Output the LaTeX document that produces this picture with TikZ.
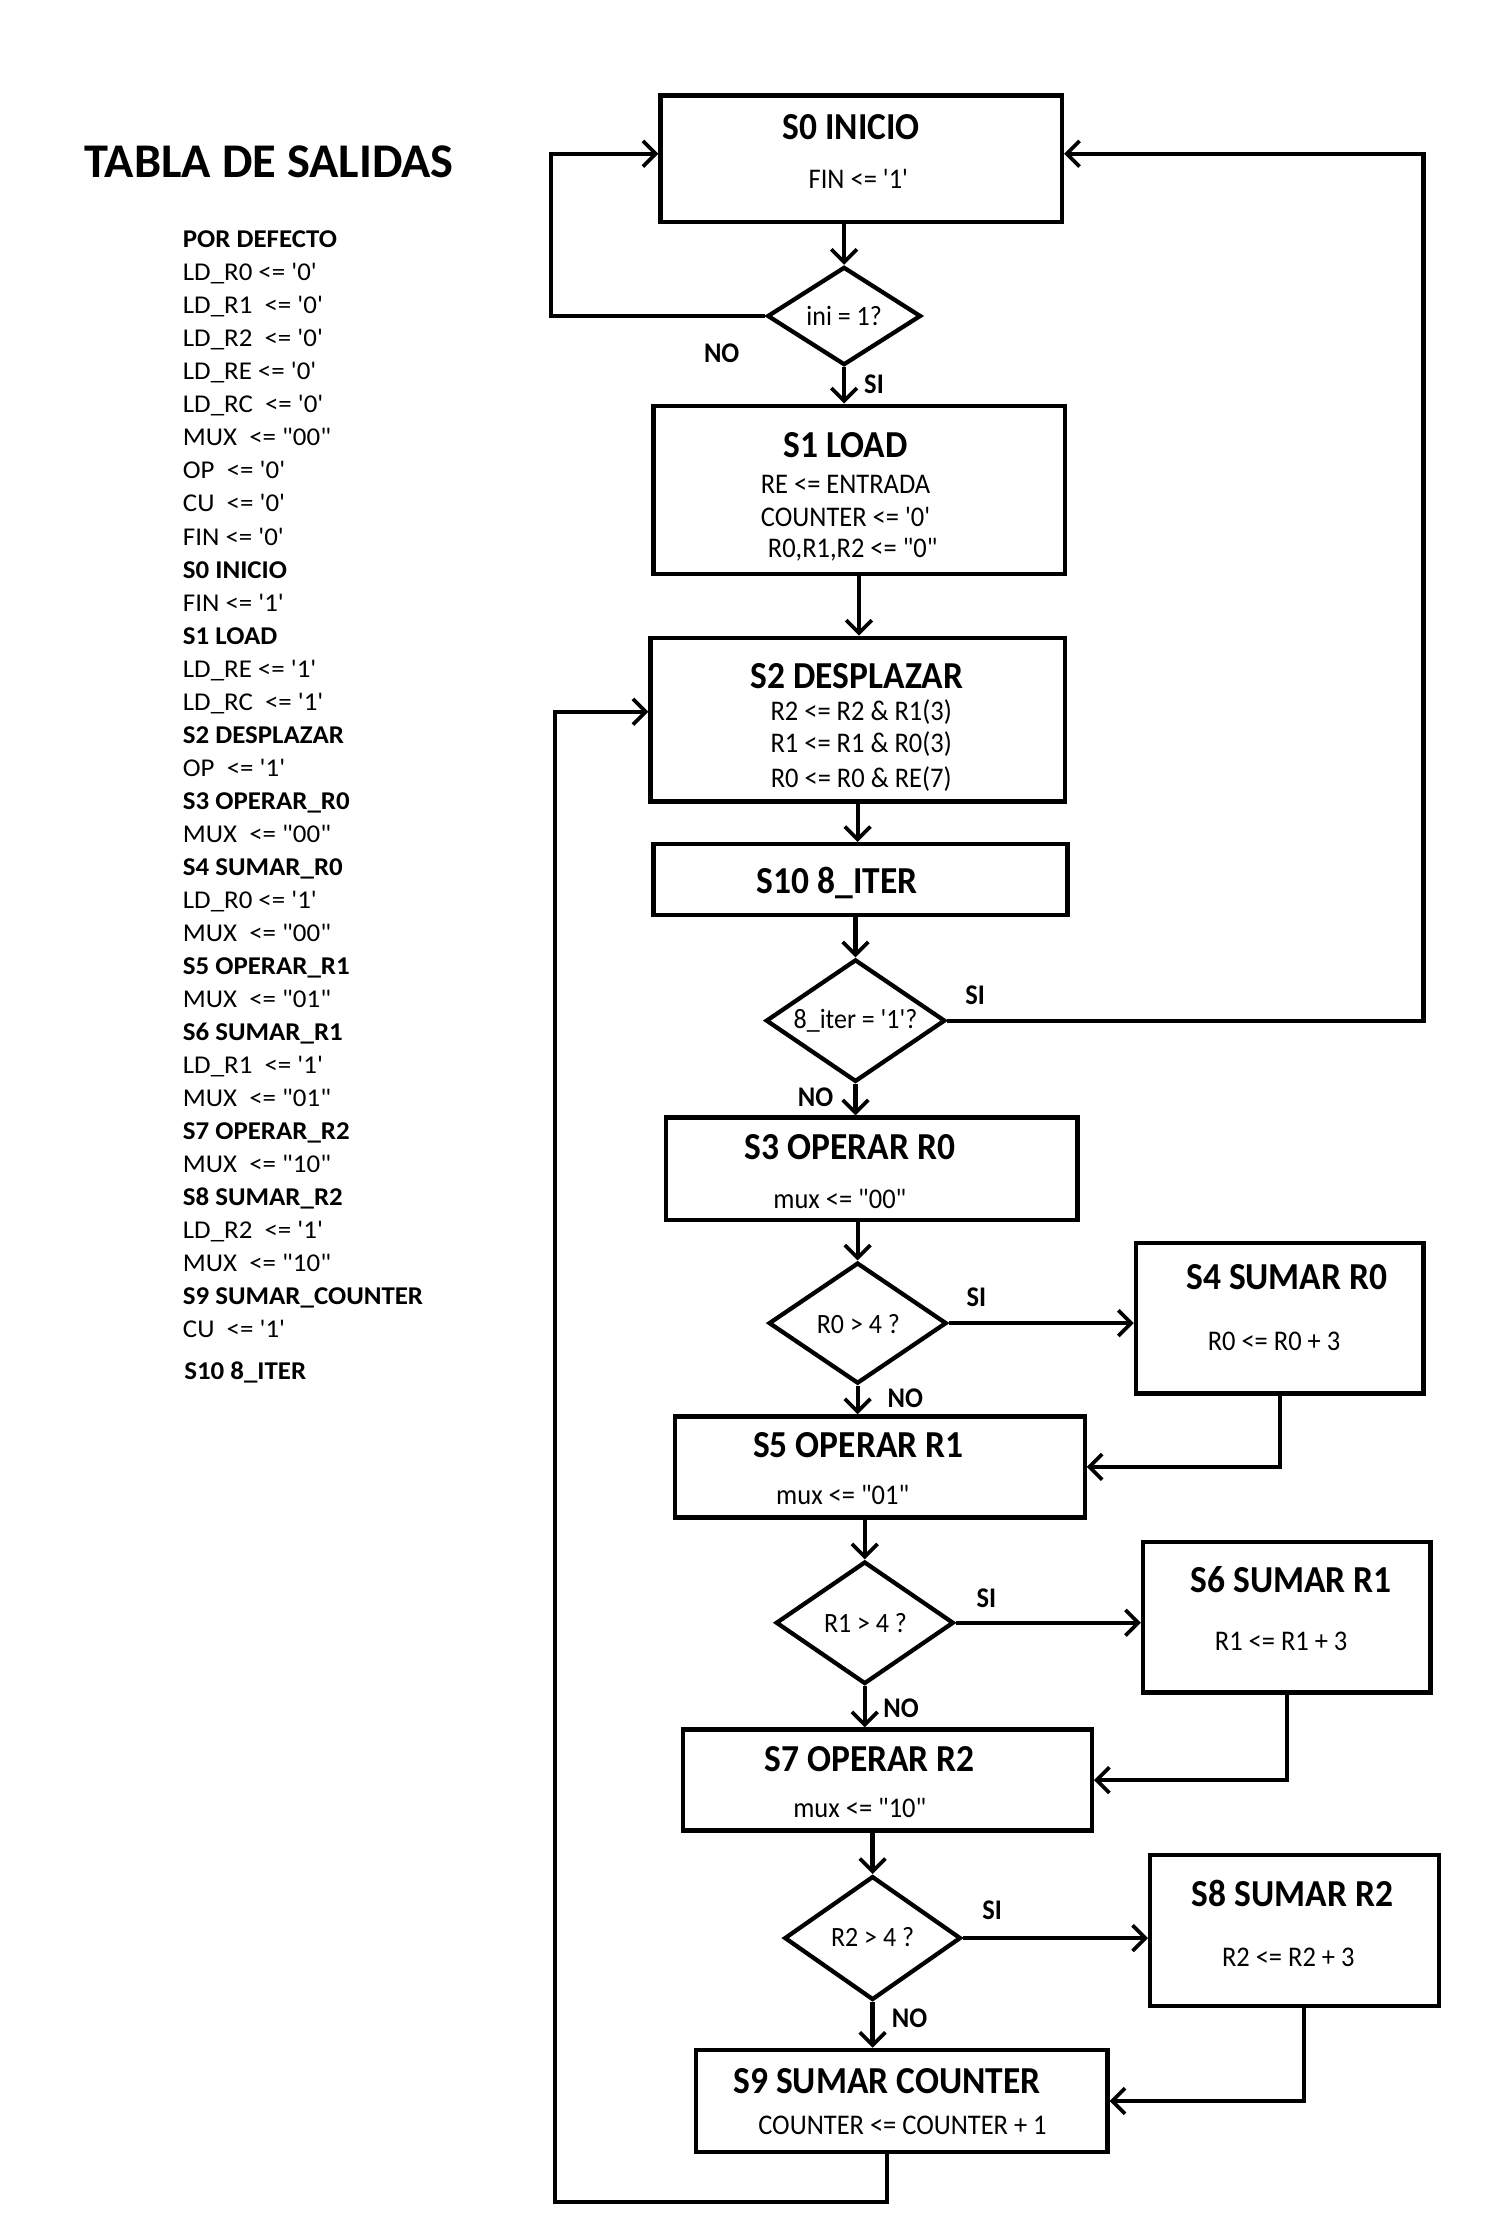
\documentclass[tikz,border=0pt]{standalone}
\usepackage{fontspec}
\newfontfamily\flowfont{Carlito}[FakeStretch=0.93]
\newfontfamily\tablefont{Carlito}[FakeStretch=1.05]
\newfontfamily\headfont{Carlito}
\usetikzlibrary{arrows.meta,shapes.geometric,calc}

\begin{document}
\begin{tikzpicture}[x=1pt,y=-1pt,
  line width=3pt,
  box/.style={draw, rectangle, inner sep=0pt, line width=3pt},
  dec/.style={draw, diamond, inner sep=0pt, line width=3pt},
  arr/.style={-{Straight Barb[length=9pt,width=18pt,line width=2.6pt]}},
  ttl/.style={font=\flowfont\bfseries\fontsize{26.8}{30}\selectfont, inner sep=0pt},
  txt/.style={font=\flowfont\fontsize{20}{24}\selectfont, inner sep=0pt},
  ask/.style={font=\flowfont\fontsize{19.6}{22}\selectfont, inner sep=0pt},
  tag/.style={font=\flowfont\bfseries\fontsize{20}{22}\selectfont, inner sep=0pt},
  row/.style={anchor=base west, inner sep=0pt, font=\tablefont\fontsize{18}{22}\selectfont},
]
\fill[white] (0,0) rectangle (1051,1568);
\useasboundingbox (0,0) rectangle (1051,1568);

% ---------- output table ----------
\node[anchor=base west, inner sep=0pt, font=\headfont\bfseries\fontsize{34}{38}\selectfont]
  (head) at (58,125) {TABLA DE SALIDAS};
\foreach \line [count=\i from 0] in {
  \textbf{POR DEFECTO},
  LD\_R0 <= '0',
  LD\_R1\ \ <= '0',
  LD\_R2\ \ <= '0',
  LD\_RE <= '0',
  LD\_RC\ \ <= '0',
  MUX\ \ <= "00",
  OP\ \ <= '0',
  CU\ \ <= '0',
  FIN <= '0',
  \textbf{S0 INICIO},
  FIN <= '1',
  \textbf{S1 LOAD},
  LD\_RE <= '1',
  LD\_RC\ \ <= '1',
  \textbf{S2 DESPLAZAR},
  OP\ \ <= '1',
  \textbf{S3 OPERAR\_R0},
  MUX\ \ <= "00",
  \textbf{S4 SUMAR\_R0},
  LD\_R0 <= '1',
  MUX\ \ <= "00",
  \textbf{S5 OPERAR\_R1},
  MUX\ \ <= "01",
  \textbf{S6 SUMAR\_R1},
  LD\_R1\ \ <= '1',
  MUX\ \ <= "01",
  \textbf{S7 OPERAR\_R2},
  MUX\ \ <= "10",
  \textbf{S8 SUMAR\_R2},
  LD\_R2\ \ <= '1',
  MUX\ \ <= "10",
  \textbf{S9 SUMAR\_COUNTER},
  CU\ \ <= '1'}
  \node[row] (row\i) at (127,{174+23.21*\i}) {\line};
\node[row, font=\tablefont\bfseries\fontsize{18}{22}\selectfont] (rowlast) at (128,969) {S10 8\_ITER};

% ---------- states ----------
\node[box, minimum width=282pt, minimum height=89pt]  (s0)  at (605,111.5) {};
\node[box, minimum width=289pt, minimum height=118pt] (s1)  at (603.5,344) {};
\node[box, minimum width=291pt, minimum height=115pt] (s2)  at (602.5,505.5) {};
\node[box, minimum width=291pt, minimum height=50pt]  (s10) at (604.5,618) {};
\node[box, minimum width=289pt, minimum height=72pt]  (s3)  at (612.5,821) {};
\node[box, minimum width=202pt, minimum height=106pt] (s4)  at (899,926) {};
\node[box, minimum width=288pt, minimum height=71pt]  (s5)  at (618,1030.5) {};
\node[box, minimum width=202pt, minimum height=106pt] (s6)  at (904,1136) {};
\node[box, minimum width=287pt, minimum height=71pt]  (s7)  at (623.5,1250.5) {};
\node[box, minimum width=203pt, minimum height=106pt] (s8)  at (909.5,1356) {};
\node[box, minimum width=289pt, minimum height=72pt]  (s9)  at (633.5,1476) {};

% ---------- decisions ----------
\node[dec, minimum width=108pt, minimum height=69pt] (d1) at (593,222) {};
\node[dec, minimum width=126pt, minimum height=86pt] (d2) at (601,717) {};
\node[dec, minimum width=125pt, minimum height=85pt] (d3) at (602.5,929.5) {};
\node[dec, minimum width=125pt, minimum height=86pt] (d4) at (607.5,1140) {};
\node[dec, minimum width=124pt, minimum height=87pt] (d5) at (613,1361.5) {};

% ---------- texts inside the states ----------
\node[ttl] (t0)  at (598,89)  {S0 INICIO};
\node[txt] (b0)  at (603,126) {FIN <= '1'};
\node[ttl] (t1)  at (594,313) {S1 LOAD};
\node[txt] (b1a) at (594,340) {RE <= ENTRADA};
\node[txt] (b1b) at (594,363) {COUNTER <= '0'};
\node[txt] (b1c) at (599,386) {R0,R1,R2 <= "0"};
\node[ttl] (t2)  at (602,475) {S2 DESPLAZAR};
\node[txt] (b2a) at (605,500) {R2 <= R2 \& R1(3)};
\node[txt] (b2b) at (605,523) {R1 <= R1 \& R0(3)};
\node[txt] (b2c) at (605,547) {R0 <= R0 \& RE(7)};
\node[ttl] (t10) at (588,620) {S10 8\_ITER};
\node[ttl] (t3)  at (597,806) {S3 OPERAR R0};
\node[txt] (b3)  at (590,842) {mux <= "00"};
\node[ttl] (t4)  at (904,897) {S4 SUMAR R0};
\node[txt] (b4)  at (895,942) {R0 <= R0 + 3};
\node[ttl] (t5)  at (603,1015) {S5 OPERAR R1};
\node[txt] (b5)  at (592,1050) {mux <= "01"};
\node[ttl] (t6)  at (907,1110) {S6 SUMAR R1};
\node[txt] (b6)  at (900,1153) {R1 <= R1 + 3};
\node[ttl] (t7)  at (611,1236) {S7 OPERAR R2};
\node[txt] (b7)  at (604,1270) {mux <= "10"};
\node[ttl] (t8)  at (908,1330) {S8 SUMAR R2};
\node[txt] (b8)  at (905,1375) {R2 <= R2 + 3};
\node[ttl] (t9)  at (623,1462) {S9 SUMAR COUNTER};
\node[txt] (b9)  at (634,1493) {COUNTER <= COUNTER + 1};

% ---------- texts inside the decisions ----------
\node[ask] (q1) at (593,222)  {ini = 1?};
\node[ask] (q2) at (601,717)  {8\_iter = '1'?};
\node[ask] (q3) at (603,930)  {R0 > 4 ?};
\node[ask] (q4) at (608,1140) {R1 > 4 ?};
\node[ask] (q5) at (613,1361) {R2 > 4 ?};

% ---------- branch tags ----------
\node[tag] (n1) at (507,248)  {NO};
\node[tag] (y1) at (614,270)  {SI};
\node[tag] (y2) at (685,699)  {SI};
\node[tag] (n2) at (573,771)  {NO};
\node[tag] (y3) at (686,911)  {SI};
\node[tag] (n3) at (636,982)  {NO};
\node[tag] (y4) at (693,1123) {SI};
\node[tag] (n4) at (633,1200) {NO};
\node[tag] (y5) at (697,1342) {SI};
\node[tag] (n5) at (639,1418) {NO};

% ---------- loop corners ----------
\coordinate (la) at (387,108);
\coordinate (lb) at (1000,108);
\coordinate (lc) at (390,1547);
\coordinate (ld) at (390,500);

% ---------- connectors ----------
\draw[arr] (s0.south -| d1.north) -- (d1.north);
\draw[arr] (d1.west) -| (la) -- (s0.west |- la);
\draw[arr] (d1.south) -- (d1.south |- s1.north);
\draw[arr] (s1.south) -- (s1.south |- s2.north);
\draw[arr] (s2.south) -- (s2.south |- s10.north);
\draw[arr] (s10.south -| d2.north) -- (d2.north);
\draw[arr] (d2.east) -| (lb) -- (s0.east |- lb);
\draw[arr] (d2.south) -- (d2.south |- s3.north);
\draw[arr] (s3.south -| d3.north) -- (d3.north);
\draw[arr] (d3.east) -- (d3.east -| s4.west);
\draw[arr] (d3.south) -- (d3.south |- s5.north);
\draw[arr] (s4.south) |- (s5.east);
\draw[arr] (s5.south -| d4.north) -- (d4.north);
\draw[arr] (d4.east) -- (d4.east -| s6.west);
\draw[arr] (d4.south) -- (d4.south |- s7.north);
\draw[arr] (s6.south) |- (s7.east);
\draw[arr] (s7.south -| d5.north) -- (d5.north);
\draw[arr] (d5.east) -- (d5.east -| s8.west);
\draw[arr] (d5.south) -- (d5.south |- s9.north);
\draw[arr] ([xshift=6.5pt]s8.south) |- (s9.east);
\draw[arr] ([xshift=-10.5pt]s9.south) |- (lc) -- (ld) -- (s2.west |- ld);
\end{tikzpicture}
\end{document}
